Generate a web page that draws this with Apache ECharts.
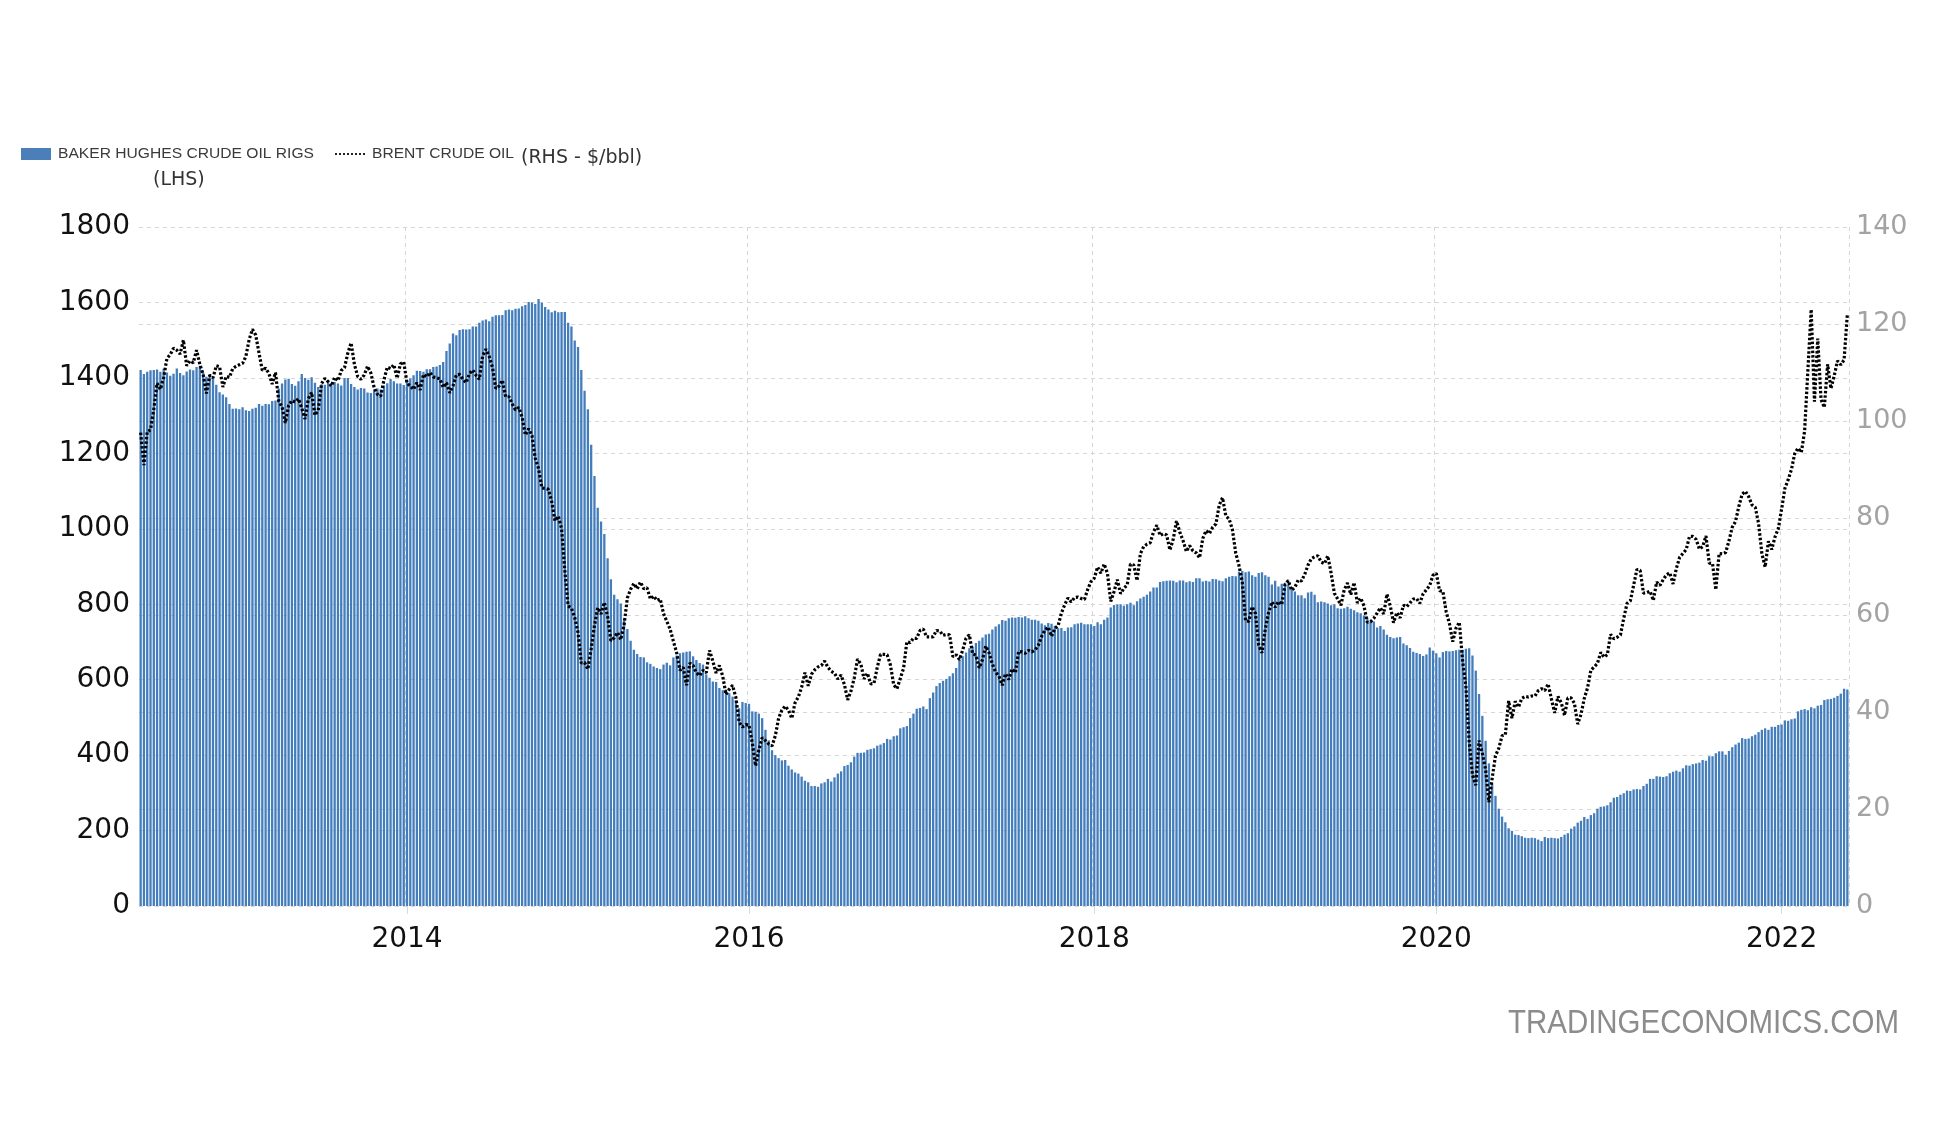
<!DOCTYPE html>
<html>
<head>
<meta charset="utf-8">
<script src="https://cdn.jsdelivr.net/npm/echarts@6/dist/echarts.min.js"></script>
<style>
  html, body { margin: 0; padding: 0; background: #fff; }
  #main { width: 1946px; height: 1132px; }
</style>
</head>
<body>
<div id="main"></div>
<script>
// weekly values, first week ends on this Friday
var firstWeek = Date.UTC(2012, 5, 15);
var yearTicks = ['2014', '2016', '2018', '2020', '2022'];

// Baker Hughes US crude oil rigs (weekly)
var rigCount = [
    // 2012
    1421, 1410, 1416, 1420, 1421, 1422, 1416, 1424, 1414, 1406, 1411, 1425, 1413, 1407, 1417, 1422,
    1420, 1429, 1432, 1415, 1403, 1410, 1398, 1382, 1362, 1356, 1349, 1331, 1318,
    // 2013
    1319, 1317, 1322, 1314, 1312, 1318, 1321, 1331, 1326, 1331, 1330, 1339, 1340,
    1372, 1385, 1396, 1398, 1384, 1379, 1391, 1410, 1400, 1395, 1402, 1387, 1376,
    1383, 1382, 1394, 1379, 1389, 1385, 1380, 1400, 1400, 1384, 1376, 1369, 1373,
    1372, 1361, 1360, 1369, 1372, 1369, 1380, 1386, 1397, 1391, 1385, 1385, 1381,
    // 2014
    1392, 1399, 1407, 1419, 1418, 1416, 1423, 1423, 1429, 1430, 1434, 1442, 1471,
    1491, 1518, 1513, 1527, 1529, 1528, 1529, 1536, 1536, 1546, 1552, 1555, 1550,
    1562, 1566, 1566, 1567, 1579, 1581, 1579, 1583, 1584, 1590, 1593, 1601, 1600,
    1596, 1609, 1599, 1588, 1581, 1574, 1578, 1574, 1575, 1575, 1546, 1536, 1499,
    // 2015
    1482, 1421, 1366, 1317, 1223, 1140, 1056, 1019, 986, 922, 866, 825, 813,
    802, 760, 734, 703, 679, 668, 660, 659, 646, 642, 635, 631, 628,
    640, 645, 638, 659, 664, 670, 672, 674, 675, 662, 652, 644, 640,
    614, 605, 595, 594, 578, 572, 574, 564, 555, 545, 524, 541, 538,
    // 2016
    536, 516, 515, 510, 498, 467, 439, 413, 400, 392, 386, 387, 372,
    362, 354, 351, 343, 332, 328, 318, 318, 316, 325, 328, 337, 330,
    341, 351, 357, 371, 374, 381, 396, 406, 406, 407, 414, 416, 418, 425,
    428, 432, 443, 441, 450, 452, 471, 474, 477, 498, 510, 523, 525,
    // 2017
    529, 522, 551, 566, 583, 591, 597, 602, 609, 617, 631, 652, 662,
    672, 683, 688, 697, 703, 712, 720, 722, 733, 741, 747, 758, 756,
    763, 765, 764, 766, 765, 768, 763, 759, 759, 756, 749, 744, 750,
    748, 743, 736, 737, 729, 738, 739, 747, 749, 751, 747, 747, 747,
    // 2018
    742, 752, 747, 759, 765, 791, 798, 799, 800, 796, 800, 804, 797,
    808, 815, 820, 825, 834, 844, 844, 859, 861, 862, 863, 862, 858,
    863, 863, 858, 861, 859, 869, 869, 860, 862, 860, 867, 866, 863,
    861, 869, 873, 875, 874, 886, 888, 885, 887, 877, 873, 883, 885,
    // 2019
    877, 873, 852, 862, 847, 854, 857, 853, 843, 834, 824, 824, 816,
    831, 833, 825, 805, 807, 805, 802, 797, 800, 789, 788, 789, 793,
    788, 784, 779, 776, 770, 764, 754, 754, 738, 742, 733, 719, 713,
    710, 712, 713, 696, 691, 684, 674, 671, 668, 663, 667, 685, 677,
    // 2020
    670, 659, 673, 676, 675, 676, 678, 679, 679, 682, 683, 664, 624,
    562, 504, 438, 378, 325, 292, 258, 237, 222, 206, 199, 189, 188,
    185, 181, 180, 181, 180, 176, 172, 183, 180, 181, 180, 179, 183,
    189, 193, 205, 211, 221, 226, 236, 231, 241, 246, 258, 263, 264,
    // 2021
    267, 275, 287, 289, 295, 299, 306, 305, 309, 310, 309, 318, 324,
    337, 337, 344, 343, 342, 344, 352, 356, 359, 356, 365, 373, 372,
    376, 378, 380, 387, 385, 397, 397, 405, 410, 410, 401, 411, 421,
    428, 433, 445, 443, 444, 450, 454, 461, 467, 471, 467, 475, 475, 480,
    // 2022
    481, 492, 491, 495, 497, 516, 520, 522, 519, 527, 524, 531,
    533, 546, 548, 549, 552, 557, 563, 576, 574
];

// Brent crude, $/bbl (weekly)
var brentPrice = [
    // 2012
    97.6, 90.9, 97.8, 98.2, 102.4, 107.8, 106.5, 109.0, 112.9, 113.7, 115.0, 114.6, 113.8, 116.7,
    111.4, 112.4, 112.0, 114.6, 111.7, 109.6, 105.7, 109.4, 108.9, 111.4, 111.2, 107.0, 109.2, 109.0, 110.8,
    // 2013
    111.3, 111.6, 111.9, 113.3, 116.8, 118.9, 117.7, 114.0, 110.4, 110.9, 109.8, 107.6, 110.0,
    104.1, 102.9, 99.6, 103.2, 104.2, 103.9, 104.6, 102.6, 100.4, 104.6, 105.9, 101.2, 102.2,
    107.7, 108.8, 108.1, 107.2, 109.0, 108.3, 110.4, 111.0, 114.0, 116.1, 111.7, 109.2, 108.6,
    109.5, 111.3, 109.9, 106.9, 105.5, 105.1, 108.5, 111.1, 110.8, 111.6, 108.8, 111.8, 112.2,
    // 2014
    107.8, 107.2, 106.5, 107.9, 106.4, 109.6, 109.1, 110.0, 109.1, 108.9, 108.7, 106.9, 107.9,
    105.8, 107.3, 109.5, 109.6, 108.6, 107.9, 109.8, 110.5, 109.4, 108.6, 113.4, 114.8, 113.3,
    111.0, 106.7, 107.2, 108.4, 105.0, 105.0, 103.5, 102.3, 102.8, 100.8, 97.1, 98.4, 97.0,
    92.3, 90.2, 86.2, 86.1, 85.9, 83.4, 79.4, 80.4, 77.8, 69.1, 61.9, 61.4, 59.5,
    // 2015
    56.4, 50.1, 50.2, 48.8, 53.0, 57.8, 61.5, 60.2, 62.6, 59.7, 54.7, 55.3, 56.4,
    54.9, 57.9, 63.5, 65.3, 66.5, 65.4, 66.8, 65.4, 65.6, 63.3, 63.9, 63.0, 63.3,
    60.3, 58.7, 57.1, 54.6, 52.2, 48.6, 49.2, 45.5, 50.1, 49.6, 48.1, 47.5, 48.6,
    48.1, 52.7, 50.5, 48.0, 49.6, 47.4, 43.6, 44.7, 45.5, 43.0, 37.9, 36.9, 37.4,
    // 2016
    37.3, 33.6, 28.9, 32.2, 34.7, 34.1, 33.4, 33.0, 35.1, 38.7, 40.4, 41.2, 40.4,
    38.7, 41.9, 43.1, 45.1, 48.1, 45.4, 47.8, 48.7, 49.3, 49.6, 50.5, 49.2, 48.4,
    48.0, 46.8, 47.6, 45.7, 42.5, 44.3, 47.0, 50.9, 49.9, 46.8, 48.0, 45.8, 45.9, 49.2,
    51.9, 51.9, 51.8, 49.7, 45.6, 44.8, 46.9, 49.0, 54.5, 54.3, 55.2, 55.2, 56.8,
    // 2017
    57.1, 55.5, 55.5, 55.5, 56.8, 56.7, 55.8, 56.0, 55.9, 51.4, 51.8, 50.8, 52.8,
    55.2, 55.9, 52.0, 51.7, 49.1, 50.8, 53.6, 52.2, 49.9, 48.2, 47.4, 45.5, 47.9,
    46.7, 48.9, 48.1, 52.5, 52.4, 52.1, 52.7, 52.4, 52.8, 53.8, 55.6, 56.9, 57.5,
    55.6, 57.2, 57.8, 60.4, 62.1, 63.5, 62.7, 63.6, 63.7, 63.4, 63.2, 65.3, 66.9,
    // 2018
    67.6, 69.9, 68.6, 70.5, 68.6, 62.8, 64.8, 67.3, 64.4, 65.5, 66.2, 70.5, 70.3,
    67.1, 72.6, 74.1, 74.6, 74.9, 77.1, 78.5, 76.4, 76.8, 76.5, 73.4, 75.6, 79.4,
    77.1, 75.3, 73.1, 74.3, 73.2, 72.8, 71.8, 75.8, 77.4, 76.8, 78.1, 78.8, 82.7,
    84.2, 80.4, 79.8, 77.6, 72.8, 70.2, 66.8, 58.8, 58.7, 61.7, 60.3, 53.8, 52.2,
    // 2019
    57.1, 60.5, 62.7, 61.6, 62.8, 62.1, 66.3, 67.1, 65.1, 65.7, 67.2, 67.0, 68.4,
    70.3, 71.6, 72.0, 72.2, 70.9, 70.6, 72.2, 68.7, 64.5, 63.3, 62.0, 65.2, 66.6,
    64.2, 66.7, 62.5, 63.5, 61.9, 58.5, 58.6, 59.3, 60.4, 61.5, 60.2, 64.3, 61.9,
    58.4, 60.5, 59.4, 62.0, 61.7, 62.5, 63.3, 63.4, 62.4, 64.4, 65.2, 66.1, 68.2,
    // 2020
    68.6, 65.0, 64.9, 60.7, 58.2, 54.5, 57.3, 58.5, 50.5, 45.3, 33.9, 27.0, 24.9,
    34.1, 31.5, 28.1, 21.4, 26.4, 31.0, 32.5, 35.1, 35.3, 42.3, 38.7, 42.2, 41.0,
    42.8, 43.2, 43.1, 43.3, 43.3, 44.4, 44.8, 44.4, 45.8, 42.7, 39.8, 43.2, 41.9,
    39.3, 42.9, 42.9, 41.8, 37.5, 39.5, 42.8, 45.0, 48.6, 49.3, 50.0, 52.3, 51.3,
    // 2021
    51.8, 56.0, 55.1, 55.4, 55.9, 59.3, 62.4, 62.9, 66.1, 69.4, 69.2, 64.5, 64.6,
    64.9, 63.0, 66.8, 66.1, 67.3, 68.3, 68.7, 66.4, 69.6, 71.9, 72.7, 73.5, 76.2,
    76.2, 75.6, 73.6, 74.1, 76.3, 70.7, 70.6, 65.2, 72.7, 72.6, 72.9, 75.3, 78.1,
    79.3, 82.4, 84.9, 85.5, 84.4, 82.7, 82.2, 78.9, 72.7, 69.9, 75.2, 73.5, 76.1, 77.8,
    // 2022
    81.8, 86.1, 87.9, 90.0, 93.3, 94.4, 93.5, 97.9, 110.5, 123.0, 104.0, 117.0,
    104.4, 102.8, 111.7, 106.7, 109.3, 112.4, 111.6, 112.6, 122.0
];

var weeks = rigCount.map(function (v, i) {
    return new Date(firstWeek + i * 7 * 864e5).toISOString().slice(0, 10);
});

// first week of each labelled year
var tickIndex = {};
yearTicks.forEach(function (y) {
    for (var i = 0; i < weeks.length; i++) {
        if (weeks[i].slice(0, 4) === y) { tickIndex[i] = true; break; }
    }
});
function isYearTick(index) { return !!tickIndex[index]; }

function fitScale(text, font, width) {
    var ctx = document.createElement('canvas').getContext('2d');
    ctx.font = font;
    return width / ctx.measureText(text).width;
}

var smallFont = '15px "Liberation Sans"';
var gridDash = { color: '#d6d6d6', type: [4, 4], width: 1 };

var myChart = echarts.init(document.getElementById('main'));

var option = {
    backgroundColor: '#fff',
    animation: false,
    grid: { left: 139, right: 97, top: 227, bottom: 226 },
    xAxis: {
        type: 'category',
        data: weeks,
        boundaryGap: true,
        axisLine: { show: false },
        axisTick: { show: true, alignWithLabel: true, interval: isYearTick, length: 8, lineStyle: { color: '#dadada' } },
        axisLabel: {
            interval: isYearTick,
            formatter: function (v) { return v.slice(0, 4); },
            fontFamily: 'DejaVu Sans', fontSize: 28, color: '#111', margin: 20
        },
        splitLine: { show: true, interval: isYearTick, lineStyle: gridDash }
    },
    yAxis: [
        {
            type: 'value', min: 0, max: 1800, interval: 200, position: 'left',
            axisLine: { show: false }, axisTick: { show: false },
            axisLabel: {
                formatter: function (v) { return String(v); },
                fontFamily: 'DejaVu Sans', fontSize: 28, color: '#111', margin: 9
            },
            splitLine: { lineStyle: gridDash }
        },
        {
            type: 'value', min: 0, max: 140, interval: 20, position: 'right',
            axisLine: { show: false }, axisTick: { show: false },
            axisLabel: { fontFamily: 'DejaVu Sans', fontSize: 27, color: '#a3a3a3', margin: 7 },
            splitLine: { lineStyle: gridDash }
        }
    ],
    series: [
        {
            name: 'BAKER HUGHES CRUDE OIL RIGS',
            type: 'bar',
            yAxisIndex: 0,
            data: rigCount,
            barCategoryGap: '30%',
            itemStyle: { color: '#437dbb' }
        },
        {
            name: 'BRENT CRUDE OIL',
            type: 'line',
            yAxisIndex: 1,
            data: brentPrice,
            symbol: 'none',
            showSymbol: false,
            z: 3,
            lineStyle: { color: '#000', width: 3.2, type: [2.5, 2] }
        }
    ],
    graphic: [
        { type: 'rect', x: 21, y: 148, shape: { width: 30, height: 12 }, style: { fill: '#4a7fb9' } },
        {
            type: 'text', x: 58, y: 154,
            scaleX: fitScale('BAKER HUGHES CRUDE OIL RIGS', smallFont, 256),
            style: { text: 'BAKER HUGHES CRUDE OIL RIGS', font: smallFont, fill: '#3a3a3a', verticalAlign: 'middle' }
        },
        {
            type: 'text', x: 153, y: 180,
            style: { text: '(LHS)', font: '19px "DejaVu Sans"', fill: '#333', verticalAlign: 'middle' }
        },
        {
            type: 'line', shape: { x1: 335, y1: 154, x2: 367, y2: 154 },
            style: { stroke: '#222', lineWidth: 2, lineDash: [2, 2] }
        },
        {
            type: 'text', x: 372, y: 154,
            scaleX: fitScale('BRENT CRUDE OIL', smallFont, 142),
            style: { text: 'BRENT CRUDE OIL', font: smallFont, fill: '#3a3a3a', verticalAlign: 'middle' }
        },
        {
            type: 'text', x: 521, y: 158,
            style: { text: '(RHS - $/bbl)', font: '19px "DejaVu Sans"', fill: '#333', verticalAlign: 'middle' }
        },
        {
            type: 'text', x: 1508, y: 1024,
            scaleX: fitScale('TRADINGECONOMICS.COM', '34px "Liberation Sans"', 391),
            style: { text: 'TRADINGECONOMICS.COM', font: '34px "Liberation Sans"', fill: '#8c8c8c', verticalAlign: 'middle' }
        }
    ]
};

myChart.setOption(option);
</script>
</body>
</html>
